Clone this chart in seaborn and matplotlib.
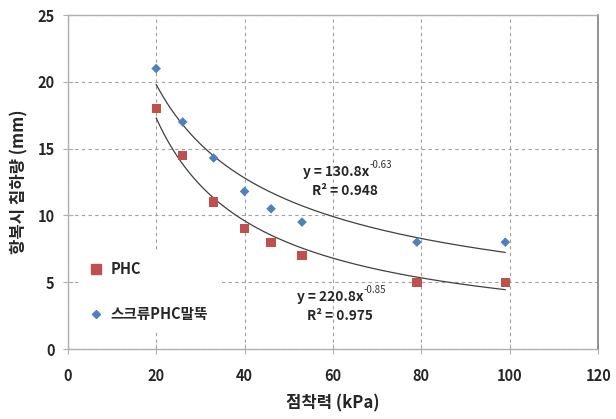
import numpy as np
import pandas as pd
import matplotlib
matplotlib.use("Agg")
import matplotlib.pyplot as plt
import seaborn as sns
from matplotlib.lines import Line2D

# data
x_phc = [20, 26, 33, 40, 46, 53, 79, 99]
y_phc = [18, 14.5, 11, 9, 8, 7, 5, 5]
x_screw = [20, 26, 33, 40, 46, 53, 79, 99]
y_screw = [21, 17, 14.3, 11.8, 10.5, 9.5, 8, 8]
series_names = ["PHC", "스크류PHC말뚝"]
fit_a = [220.8, 130.8]
fit_b = [-0.85, -0.63]
fit_r2 = [0.975, 0.948]
x_ticks = [0, 20, 40, 60, 80, 100, 120]
y_ticks = [0, 5, 10, 15, 20, 25]

sns.set_theme(style="white")
plt.rcParams['font.family'] = ['Noto Sans CJK KR', 'DejaVu Sans']

df = pd.DataFrame({
    "x": x_phc + x_screw,
    "y": y_phc + y_screw,
    "series": [series_names[0]] * len(x_phc) + [series_names[1]] * len(x_screw),
})

fig = plt.figure(figsize=(6.16, 4.19), dpi=100)
ax = fig.add_axes([0.110, 0.167, 0.861, 0.797])

# trendlines
for a, b, xs in zip(fit_a, fit_b, [x_phc, x_screw]):
    xx = np.linspace(min(xs), max(xs), 200)
    ax.plot(xx, a * xx ** b, color="#404040", lw=0.9, zorder=2)

sns.scatterplot(data=df, x="x", y="y", hue="series", style="series",
                markers={series_names[0]: "s", series_names[1]: "D"},
                palette={series_names[0]: "#C0504D", series_names[1]: "#4F81BD"},
                size="series", sizes={series_names[0]: 44, series_names[1]: 24},
                edgecolor="none", ax=ax, zorder=3, legend=False)

ax.set_xlim(0, 120)
ax.set_ylim(0, 25)
ax.set_xticks(x_ticks)
ax.set_yticks(y_ticks)
ax.grid(True, linestyle=(0, (3, 3)), color="#A0A0A0", lw=0.8)
ax.set_axisbelow(True)
for s in ["left", "bottom", "top"]:
    ax.spines[s].set_color("#B0B0B0")
    ax.spines[s].set_linewidth(1.0)
ax.spines["right"].set_color("#808080")
ax.spines["right"].set_linewidth(1.2)
ax.tick_params(axis="both", direction="inout", length=7, width=0.8,
               color="#B0B0B0", labelsize=10.5, bottom=True, left=True)
ax.tick_params(axis="x", pad=10)
ax.tick_params(axis="y", pad=6)
for lab in ax.get_xticklabels() + ax.get_yticklabels():
    lab.set_fontweight("bold")

ax.set_xlabel("점착력 (kPa)", fontsize=12, fontweight="bold", labelpad=8)
ax.set_ylabel("항복시 침하량 (mm)", fontsize=12, fontweight="bold", labelpad=6)

# equations
def equation(xc, yc, a, b, r2):
    t = ax.text(xc - 2.0, yc, f"y = {a}x", ha="center", va="center",
                fontsize=9.8, fontweight="bold")
    ax.annotate(f"{b}", xy=(1.0, 0.62), xycoords=t, fontsize=7,
                color="#333333", ha="left", va="bottom")
    ax.text(xc, yc - 1.45, f"R² = {r2}", ha="center", va="center",
            fontsize=9.8, fontweight="bold")

equation(62.7, 13.25, fit_a[1], fit_b[1], fit_r2[1])
equation(61.5, 3.9, fit_a[0], fit_b[0], fit_r2[0])

# legend
handles = [
    Line2D([], [], marker="s", color="#C0504D", ls="none", markersize=6.5),
    Line2D([], [], marker="D", color="#4F81BD", ls="none", markersize=4.5),
]
leg = ax.legend(handles, series_names, loc="upper left", bbox_to_anchor=(0.023, 0.29),
                frameon=True, facecolor="white", edgecolor="white", framealpha=1,
                handlelength=1.0, handletextpad=0.5, labelspacing=2.0, borderpad=0.6,
                borderaxespad=0,
                prop={"family": ["Noto Sans CJK KR", "DejaVu Sans"], "weight": "bold", "size": 10.5})

fig.savefig("out.png", dpi=100)
